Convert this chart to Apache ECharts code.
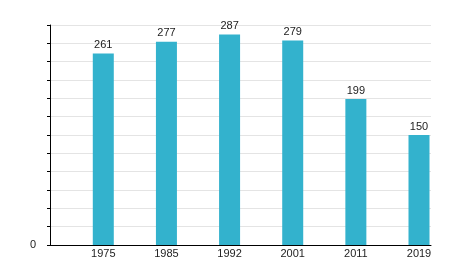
<!DOCTYPE html>
<html><head><meta charset="utf-8">
<script src="https://cdn.jsdelivr.net/npm/echarts@6/dist/echarts.min.js"></script>
<style>html,body{margin:0;padding:0;background:#fff}#c{width:450px;height:275px}</style>
</head><body><div id="c"></div>
<script>
const years = ['1975','1985','1992','2001','2011','2019'];
const values = [261, 277, 287, 279, 199, 150];
const yMin = 0, yMax = 300, yStep = 25;

const chart = echarts.init(document.getElementById('c'), null, {renderer:'canvas'});
const font = '"Liberation Sans", Arial, sans-serif';
chart.setOption({
  animation: false,
  grid: {left: 50, right: 19, top: 25, bottom: 30, containLabel: false},
  xAxis: {
    type: 'value', min: -0.844, max: 5.19,
    axisLine: {show: true, onZero: false, lineStyle: {color: '#000', width: 1}},
    axisTick: {show: false},
    splitLine: {show: false},
    axisLabel: {
      customValues: years.map((_, i) => i),
      formatter: v => years[Math.round(v)] || '',
      color: '#222', fontSize: 11, fontFamily: font, margin: 3
    }
  },
  yAxis: {
    type: 'value', min: yMin, max: yMax, interval: yStep,
    axisLine: {show: true, onZero: false, lineStyle: {color: '#000', width: 1}},
    axisTick: {show: true, length: 3, lineStyle: {color: '#000'}},
    splitLine: {show: true, lineStyle: {color: '#e4e4e4', width: 1}},
    axisLabel: {
      formatter: v => v === 0 ? '0' : '',
      color: '#222', fontSize: 11, fontFamily: font, margin: 14
    }
  },
  series: [{
    type: 'bar',
    data: values.map((v, i) => [i, v]),
    barWidth: 21,
    itemStyle: {color: '#33b2cd'},
    label: {show: true, position: 'top', distance: 3, color: '#222', fontSize: 11, fontFamily: font}
  }]
});
</script></body></html>
